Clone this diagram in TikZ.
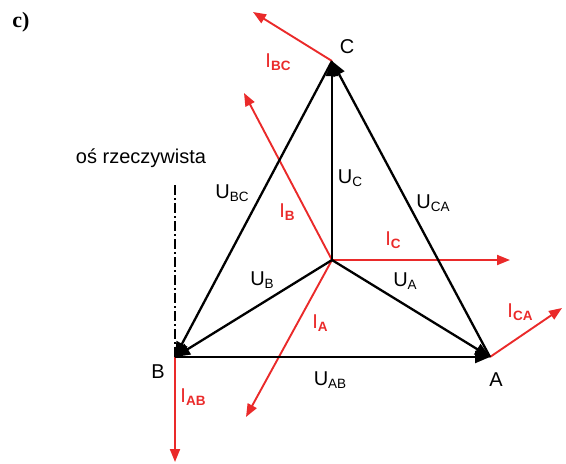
\documentclass[tikz,border=0pt]{standalone}
\usepackage{fontspec}
\setmainfont{Liberation Sans}
\newfontfamily\capfont{Liberation Serif}
\usetikzlibrary{arrows.meta}
\definecolor{curRed}{RGB}{234,42,42}
\newcommand{\idx}[1]{\raisebox{-2.5pt}{\fontsize{13.5}{13.5}\selectfont #1}}
\newcommand{\ridx}[1]{\raisebox{-2.5pt}{\fontsize{13.5}{13.5}\selectfont\bfseries #1}}

\begin{document}
\begin{tikzpicture}[x=1pt, y=-1pt,
    volt/.style={line width=2.3pt, -{Triangle[length=15pt, width=12pt]}},
    curr/.style={curRed, line width=1.9pt, -{Triangle[length=13pt, width=10pt]}},
    lbl/.style={font=\fontsize{20}{20}\selectfont, inner sep=0pt},
    rlbl/.style={lbl, text=curRed}]
    \useasboundingbox (0,0) rectangle (566,464);
    % --- star point and phase ends ---
    \coordinate (O) at (332,260);
    \coordinate (A) at (490,357);
    \coordinate (B) at (175,357);
    \coordinate (C) at (332,61);
    % --- current tips ---
    \coordinate (iBCend) at (253,12);
    \coordinate (iBend)  at (244,93);
    \coordinate (iCend)  at (510,260);
    \coordinate (iAend)  at (246,417);
    \coordinate (iCAend) at (562,308);
    \coordinate (iABend) at (175,462);
    \coordinate (axisTop) at (175,185);
    % --- real axis (dash-dot) ---
    \draw[line width=1.4pt, dash pattern=on 10pt off 3pt on 2pt off 3pt] (axisTop) -- (B);
    % --- currents (red) ---
    \draw[curr] (C) -- (iBCend);
    \draw[curr] (O) -- (iBend);
    \draw[curr] (O) -- (iCend);
    \draw[curr] (O) -- (iAend);
    \draw[curr] (A) -- (iCAend);
    \draw[curr] (B) -- (iABend);
    % --- phase voltages ---
    \draw[volt] (O) -- (A);
    \draw[volt] (O) -- (B);
    \draw[volt] (O) -- (C);
    % --- line voltages ---
    \draw[volt] (B) -- (A);
    \draw[volt] (C) -- (B);
    \draw[volt] (A) -- (C);
    % --- labels ---
    \node[inner sep=0pt, font=\capfont\bfseries\fontsize{22}{22}\selectfont] (tag) at (21,22) {c)};
    \node[lbl] (labC) at (347,47) {C};
    \node[lbl] (labA) at (496,380) {A};
    \node[lbl] (labB) at (158,372) {B};
    \node[lbl] (axis) at (141,158) {oś rzeczywista};
    \node[lbl] (uBC) at (232,193) {U\idx{BC}};
    \node[lbl] (uC)  at (350,178) {U\idx{C}};
    \node[lbl] (uCA) at (433,203) {U\idx{CA}};
    \node[lbl] (uB)  at (262,280) {U\idx{B}};
    \node[lbl] (uA)  at (405,281) {U\idx{A}};
    \node[lbl] (uAB) at (330,380) {U\idx{AB}};
    \node[rlbl] (lBC) at (278,62)  {I\ridx{BC}};
    \node[rlbl] (lB)  at (287,212) {I\ridx{B}};
    \node[rlbl] (lC)  at (393,240) {I\ridx{C}};
    \node[rlbl] (lA)  at (320,323) {I\ridx{A}};
    \node[rlbl] (lAB) at (193,397) {I\ridx{AB}};
    \node[rlbl] (lCA) at (520,312) {I\ridx{CA}};
\end{tikzpicture}
\end{document}
